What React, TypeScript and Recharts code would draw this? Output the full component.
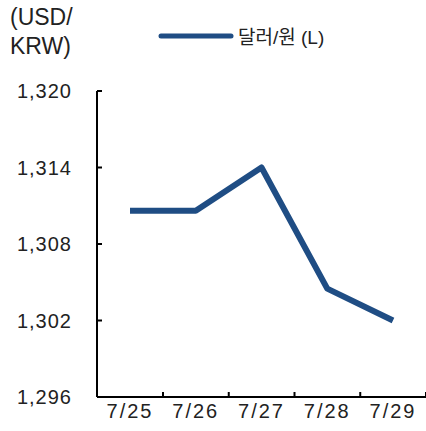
import React from 'react';
import { LineChart, Line, XAxis, YAxis } from 'recharts';

const dates = ['7/25', '7/26', '7/27', '7/28', '7/29'];
const usdKrw = [1310.6, 1310.6, 1314.0, 1304.5, 1302.0];
const yTicks = [1296, 1302, 1308, 1314, 1320];

const data = dates.map((d, i) => ({ date: d, value: usdKrw[i] }));

const FONT = "'Liberation Sans', Arial, 'Noto Sans CJK KR', sans-serif";
const LINE_COLOR = '#1f4d84';
const HALF_BAND = 33;

const XTick = (props: any) => {
  const { x, y, payload } = props;
  return (
    <g>
      <line x1={x + HALF_BAND} y1={397} x2={x + HALF_BAND} y2={392} stroke="#000" strokeWidth={2} />
      <text x={x} y={y} dy={13} textAnchor="middle" fontSize={20} letterSpacing={2} fill="#222" fontFamily={FONT}>
        {payload.value}
      </text>
    </g>
  );
};

const YTick = (props: any) => {
  const { x, y, payload } = props;
  return (
    <g>
      <line x1={97} y1={y} x2={102} y2={y} stroke="#000" strokeWidth={2} />
      <text x={x} y={y} dy={7} textAnchor="end" fontSize={20} letterSpacing={1} fill="#222" fontFamily={FONT}>
        {payload.value.toLocaleString('en-US')}
      </text>
    </g>
  );
};

export default function App() {
  return (
    <div style={{ position: 'absolute', left: 0, top: 0, width: 426, height: 431, background: '#fff' }}>
      <div
        style={{
          position: 'absolute',
          left: 10,
          top: 3,
          fontFamily: FONT,
          fontSize: 23,
          lineHeight: '29px',
          color: '#222',
        }}
      >
        (USD/
        <br />
        KRW)
      </div>
      <div
        style={{
          position: 'absolute',
          left: 158,
          top: 22,
          display: 'flex',
          alignItems: 'center',
          fontFamily: FONT,
          fontSize: 19,
          color: '#222',
        }}
      >
        <svg width={76} height={8}>
          <line x1={3} y1={4} x2={73} y2={4} stroke={LINE_COLOR} strokeWidth={5} strokeLinecap="round" />
        </svg>
        <span style={{ marginLeft: 4 }}>달러/원 (L)</span>
      </div>
      <LineChart width={426} height={431} data={data} margin={{ top: 91, right: 0, bottom: 0, left: 0 }}>
        <XAxis
          dataKey="date"
          height={34}
          padding={{ left: HALF_BAND, right: HALF_BAND }}
          axisLine={{ stroke: '#000', strokeWidth: 2 }}
          tickLine={false}
          tickSize={0}
          tickMargin={8}
          interval={0}
          tick={<XTick />}
        />
        <YAxis
          width={97}
          domain={[1296, 1320]}
          ticks={yTicks}
          axisLine={{ stroke: '#000', strokeWidth: 2 }}
          tickLine={false}
          tickSize={0}
          tickMargin={25}
          interval={0}
          tick={<YTick />}
        />
        <Line
          type="linear"
          dataKey="value"
          stroke={LINE_COLOR}
          strokeWidth={6}
          strokeLinejoin="round"
          dot={false}
          isAnimationActive={false}
        />
      </LineChart>
    </div>
  );
}
